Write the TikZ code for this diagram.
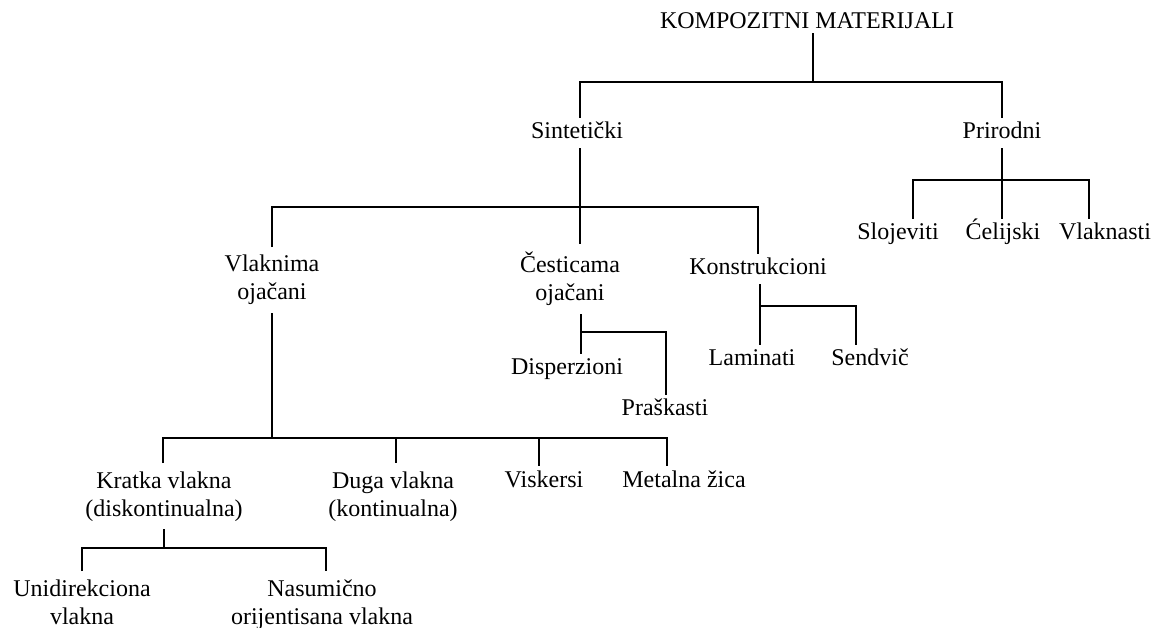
\documentclass[tikz,border=0pt]{standalone}
\usepackage{fontspec}
\setmainfont{Liberation Serif}
\begin{document}
\begin{tikzpicture}[x=1pt,y=-1pt,
	lbl/.style={inner xsep=0pt,font=\fontsize{24}{28}\selectfont,anchor=base},
	one/.style={lbl,inner ysep=4pt,text height=17pt,text depth=5pt},
	two/.style={lbl,inner ysep=8pt,align=center},
	conn/.style={line width=2pt}]
	\useasboundingbox (0,0) rectangle (1160,628);
	% nodes (two-line nodes sit on the baseline of their last line)
	\node[one,text depth=0pt] (root) at (807,29) {KOMPOZITNI MATERIJALI};
	\node[one] (sint) at (577,139) {Sintetički};
	\node[one] (prir) at (1002,139) {Prirodni};
	\node[one] (slo) at (898,240) {Slojeviti};
	\node[one] (cel) at (1003,240) {Ćelijski};
	\node[one] (vln) at (1105,240) {Vlaknasti};
	\node[two] (vlak) at (272,300) {Vlaknima\\ojačani};
	\node[two] (cest) at (570,301) {Česticama\\ojačani};
	\node[one] (kons) at (758,275) {Konstrukcioni};
	\node[one] (disp) at (567,375) {Disperzioni};
	\node[one] (prask) at (665,416) {Praškasti};
	\node[one] (lam) at (752,366) {Laminati};
	\node[one] (sen) at (870,366) {Sendvič};
	\node[two] (krat) at (164,516) {Kratka vlakna\\(diskontinualna)};
	\node[two] (duga) at (393,516) {Duga vlakna\\(kontinualna)};
	\node[one] (visk) at (544,487) {Viskersi};
	\node[one] (met) at (684,487) {Metalna žica};
	\node[two] (uni) at (82,624) {Unidirekciona\\vlakna};
	\node[two] (nas) at (322,624) {Nasumično\\orijentisana vlakna};
	% bar points
	\coordinate (r) at (813,82);
	\coordinate (s) at (580,207);
	\coordinate (p) at (1002,180);
	\coordinate (pl) at (913,180);
	\coordinate (pr) at (1089,180);
	\coordinate (c) at (581,332);
	\coordinate (cr) at (666,332);
	\coordinate (k) at (760,306);
	\coordinate (kr) at (856,306);
	\coordinate (v) at (272,438);
	\coordinate (v1) at (163,438);
	\coordinate (v2) at (396,438);
	\coordinate (v3) at (539,438);
	\coordinate (v4) at (667,438);
	\coordinate (kv) at (164,548);
	\coordinate (kl) at (82,548);
	\coordinate (kd) at (326,548);
	% connectors
	\draw[conn] (root.south -| r) -- (r);
	\draw[conn] (sint.north -| s) |- (r) -| (prir.north);
	\draw[conn] (sint.south -| s) -- (s |- cest.north);
	\draw[conn] (vlak.north) |- (s) -| (kons.north);
	\draw[conn] (prir.south) -- (p) -- (p |- cel.north);
	\draw[conn] (pl |- slo.north) -- (pl) -- (pr) -- (pr |- vln.north);
	\draw[conn] (c |- cest.south) -- (c |- disp.north);
	\draw[conn] (c) -- (cr) -- (cr |- prask.north);
	\draw[conn] (k |- kons.south) -- (k |- lam.north);
	\draw[conn] (k) -- (kr) -- (kr |- sen.north);
	\draw[conn] (vlak.south) -- (v);
	\draw[conn] (v1 |- krat.north) -- (v1) -- (v4) -- (v4 |- met.north);
	\draw[conn] (v2) -- (v2 |- duga.north);
	\draw[conn] (v3) -- (v3 |- visk.north);
	\draw[conn] (krat.south) -- (kv);
	\draw[conn] (kl |- uni.north) -- (kl) -- (kd) -- (kd |- nas.north);
\end{tikzpicture}
\end{document}
